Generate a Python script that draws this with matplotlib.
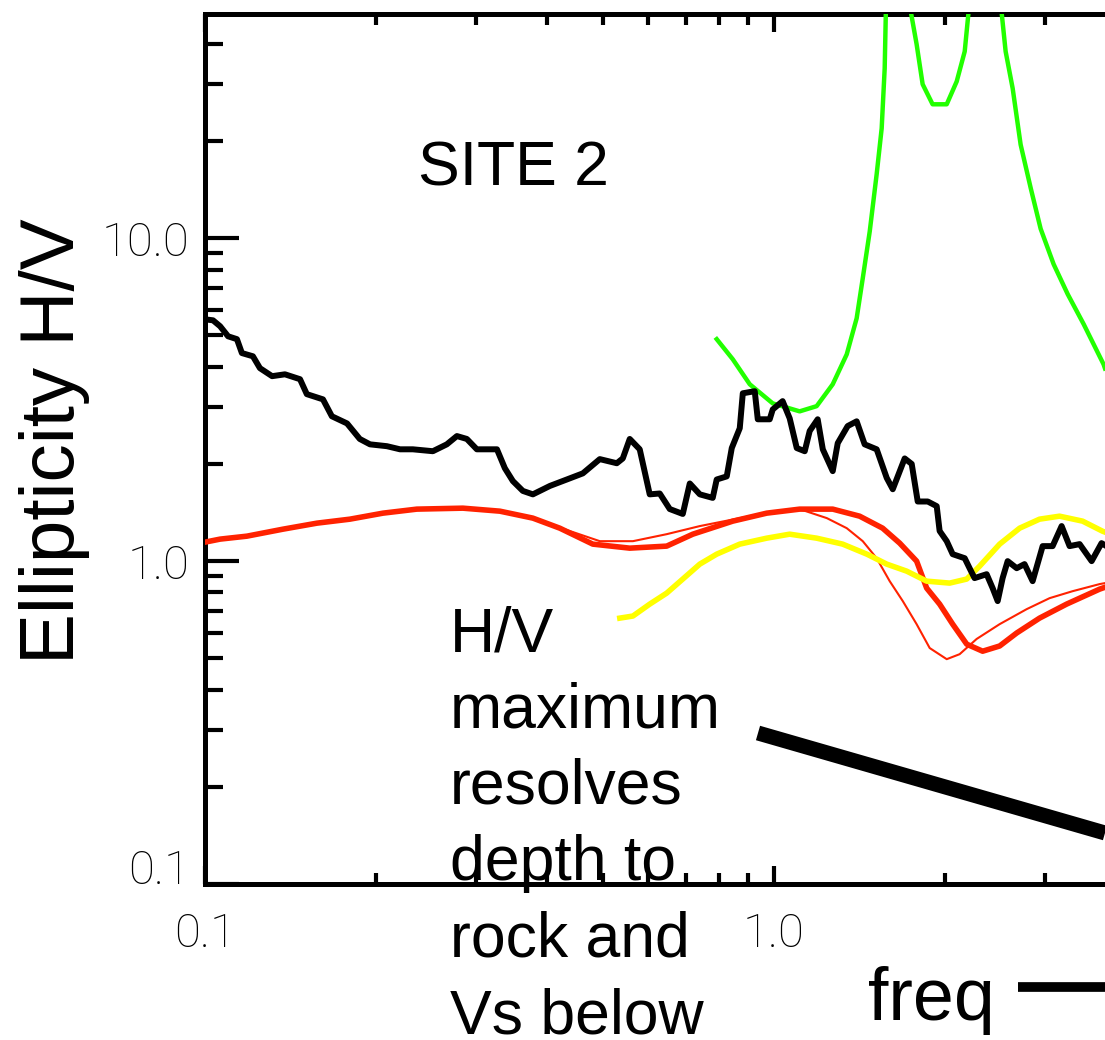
import matplotlib
matplotlib.use("Agg")
import matplotlib.pyplot as plt
from matplotlib.lines import Line2D
from matplotlib.ticker import FixedLocator, LogLocator, NullFormatter, FixedFormatter
from matplotlib.transforms import ScaledTranslation

# ---------------- data ----------------
black_f = [0.100, 0.1033, 0.1063, 0.1098, 0.1138, 0.1161, 0.1214, 0.1249, 0.1312, 0.1382,
           0.1469, 0.1510, 0.1612, 0.1671, 0.1777, 0.1871, 0.1950, 0.2088, 0.2202, 0.2319,
           0.2515, 0.2661, 0.2772, 0.2886, 0.3005, 0.3260, 0.3366, 0.3477, 0.3620, 0.3770,
           0.4040, 0.4325, 0.4615, 0.4943, 0.5295, 0.5425, 0.5580, 0.5810, 0.6050, 0.6300,
           0.6561, 0.6916, 0.7115, 0.7410, 0.7807, 0.7934, 0.8263, 0.8433, 0.8710, 0.8818,
           0.9255, 0.9369, 0.9833, 0.9954, 1.036, 1.066, 1.097, 1.133, 1.156, 1.194,
           1.219, 1.269, 1.295, 1.348, 1.398, 1.444, 1.516, 1.579, 1.618, 1.698,
           1.747, 1.790, 1.864, 1.933, 1.956, 2.013, 2.062, 2.165, 2.208, 2.253,
           2.366, 2.424, 2.474, 2.524, 2.576, 2.672, 2.758, 2.850, 2.968, 3.090,
           3.205, 3.310, 3.447, 3.619, 3.767, 3.82]
black_hv = [5.61, 5.57, 5.34, 4.97, 4.87, 4.41, 4.31, 3.96, 3.74, 3.79,
            3.66, 3.29, 3.17, 2.81, 2.67, 2.39, 2.30, 2.27, 2.22, 2.22,
            2.19, 2.30, 2.44, 2.39, 2.22, 2.22, 1.94, 1.77, 1.65, 1.61,
            1.71, 1.79, 1.87, 2.07, 2.01, 2.08, 2.39, 2.22, 1.61, 1.62,
            1.45, 1.40, 1.74, 1.61, 1.57, 1.79, 1.83, 2.24, 2.58, 3.31,
            3.36, 2.75, 2.75, 2.95, 3.13, 2.77, 2.24, 2.19, 2.53, 2.75,
            2.22, 1.90, 2.32, 2.62, 2.71, 2.30, 2.22, 1.81, 1.67, 2.08,
            2.00, 1.53, 1.53, 1.48, 1.24, 1.153, 1.051, 1.021, 0.951, 0.886,
            0.911, 0.825, 0.752, 0.886, 1.0, 0.951, 0.979, 0.867, 1.113, 1.113,
            1.284, 1.113, 1.129, 1.0, 1.137, 1.12]

red_f = [0.1, 0.1063, 0.1185, 0.1371, 0.1573, 0.1798, 0.2055, 0.2357, 0.2840, 0.3299,
         0.3770, 0.4204, 0.4805, 0.558, 0.648, 0.7203, 0.8467, 0.9714, 1.110, 1.269,
         1.415, 1.553, 1.664, 1.782, 1.856, 1.956, 2.062, 2.183, 2.328, 2.494,
         2.672, 2.931, 3.270, 3.738, 3.82]
red_hv = [1.145, 1.170, 1.195, 1.256, 1.311, 1.349, 1.408, 1.449, 1.459, 1.428,
          1.359, 1.265, 1.129, 1.097, 1.113, 1.212, 1.330, 1.408, 1.449, 1.449,
          1.378, 1.265, 1.137, 1.0, 0.825, 0.736, 0.638, 0.553, 0.526, 0.546,
          0.599, 0.666, 0.736, 0.819, 0.83]

redthin_f = [0.1, 0.1063, 0.1185, 0.1371, 0.1573, 0.1798, 0.2055, 0.2357, 0.2840, 0.3299,
             0.3770, 0.4204, 0.4943, 0.5652, 0.648, 0.741, 0.871, 0.9714, 1.110, 1.239,
             1.343, 1.433, 1.516, 1.598, 1.685, 1.782, 1.879, 2.013, 2.121, 2.272,
             2.494, 2.782, 3.053, 3.350, 3.738, 3.82]
redthin_hv = [1.145, 1.170, 1.195, 1.256, 1.311, 1.349, 1.408, 1.449, 1.459, 1.428,
              1.359, 1.27, 1.153, 1.153, 1.212, 1.284, 1.359, 1.408, 1.449, 1.359,
              1.265, 1.153, 1.021, 0.867, 0.752, 0.638, 0.538, 0.497, 0.515, 0.574,
              0.638, 0.710, 0.768, 0.807, 0.849, 0.855]

yellow_f = [0.536, 0.5652, 0.605, 0.648, 0.6916, 0.741, 0.7934, 0.871, 0.9714, 1.066,
            1.189, 1.321, 1.457, 1.579, 1.712, 1.856, 2.037, 2.183, 2.300, 2.494,
            2.704, 2.931, 3.178, 3.489, 3.782, 3.82]
yellow_hv = [0.666, 0.676, 0.736, 0.796, 0.880, 0.979, 1.051, 1.129, 1.178, 1.212,
             1.178, 1.129, 1.051, 0.979, 0.931, 0.867, 0.855, 0.880, 0.965, 1.129,
             1.265, 1.349, 1.378, 1.330, 1.238, 1.23]

green_f = [0.7934, 0.8467, 0.907, 0.9954, 1.110, 1.189, 1.269, 1.343, 1.398, 1.433,
           1.474, 1.516, 1.547, 1.566, 1.575, 1.65, 1.725, 1.782, 1.826, 1.901,
           2.013, 2.096, 2.165, 2.21, 2.35, 2.50, 2.555, 2.629, 2.715, 2.828,
           2.944, 3.103, 3.285, 3.504, 3.798, 3.82]
green_hv = [4.87, 4.22, 3.53, 3.08, 2.91, 3.02, 3.53, 4.37, 5.65, 7.52,
            10.5, 15.8, 21.9, 33.6, 55, 200, 55, 39.9, 30.0, 26.0,
            26.0, 30.6, 37.9, 55, 200, 55, 37.9, 29.1, 19.5, 14.3,
            10.7, 8.31, 6.71, 5.42, 4.07, 3.95]

x_ticks = [0.1, 1.0]
x_ticklabels = ["0.1", "1.0"]
y_ticks = [0.1, 1.0, 10.0]
y_ticklabels = ["0.1", "1.0", "10.0"]

y_label = "Ellipticity H/V"
site_text = "SITE 2"
note_lines = ["H/V", "maximum", "resolves", "depth to", "rock and", "Vs below"]
freq_text = "freq"

# ---------------- figure ----------------
W, H = 1105, 1040
fig = plt.figure(figsize=(W / 100, H / 100), dpi=100)
ax = fig.add_axes([205 / W, 1 - 884 / H, (W - 205) / W, (884 - 14) / H])
ax.set_xscale("log")
ax.set_yscale("log")
ax.set_xlim(0.1, 3.82)
ax.set_ylim(0.1, 49.5)

ax.plot(red_f, red_hv, color="#ff2200", lw=4.0, zorder=3)
ax.plot(redthin_f, redthin_hv, color="#ff2200", lw=1.5, zorder=3)
ax.plot(yellow_f, yellow_hv, color="#ffff00", lw=4.0, zorder=3)
ax.plot(green_f, green_hv, color="#22ff00", lw=3.2, zorder=3)
ax.plot(black_f, black_hv, color="black", lw=4.3, zorder=4)

for s in ["left", "top", "bottom"]:
    ax.spines[s].set_linewidth(3.6)
ax.spines["right"].set_visible(False)

ax.xaxis.set_major_locator(FixedLocator(x_ticks))
ax.xaxis.set_major_formatter(FixedFormatter(x_ticklabels))
ax.xaxis.set_minor_locator(LogLocator(base=10, subs=range(2, 10)))
ax.xaxis.set_minor_formatter(NullFormatter())
ax.yaxis.set_major_locator(FixedLocator(y_ticks))
ax.yaxis.set_major_formatter(FixedFormatter(y_ticklabels))
ax.yaxis.set_minor_locator(LogLocator(base=10, subs=range(2, 10)))
ax.yaxis.set_minor_formatter(NullFormatter())

ax.tick_params(axis="x", which="both", direction="in", top=True, bottom=True, width=3.0, pad=20)
ax.tick_params(axis="x", which="major", length=13)
ax.tick_params(axis="x", which="minor", length=8)
ax.tick_params(axis="y", which="both", direction="in", left=True, right=False, width=3.0, pad=11)
ax.tick_params(axis="y", which="major", length=24.5)
ax.tick_params(axis="y", which="minor", length=13)
for lab in ax.get_xticklabels() + ax.get_yticklabels():
    lab.set_fontfamily(["Roboto", "DejaVu Sans"])
    lab.set_fontweight("light")
    lab.set_fontsize(34)
# lowest y label sits a bit above its tick in the reference
ylabs = ax.get_yticklabels()
ylabs[0].set_transform(ylabs[0].get_transform() + ScaledTranslation(0, 17 / 100, fig.dpi_scale_trans))

txtfont = ["Liberation Sans", "DejaVu Sans"]
fig.text(55 / W, 1 - 441 / H, y_label, rotation=90, ha="center", va="center",
         fontsize=55, family=txtfont)
fig.text(418 / W, 1 - 185 / H, site_text, ha="left", va="baseline", fontsize=45, family=txtfont)

base0 = 651
step = 76.4
for i, line in enumerate(note_lines):
    fig.text(450 / W, 1 - (base0 + i * step) / H, line, ha="left", va="baseline",
             fontsize=45, family=txtfont, zorder=10)

fig.text(868 / W, 1 - 1020 / H, freq_text, ha="left", va="baseline", fontsize=53, family=txtfont)
fig.add_artist(Line2D([1018 / W, 1.0], [1 - 987 / H, 1 - 987 / H], color="black", lw=7,
                      solid_capstyle="butt", transform=fig.transFigure))
fig.add_artist(Line2D([758 / W, 1.0], [1 - 733 / H, 1 - 833 / H], color="black", lw=10.8,
                      solid_capstyle="butt", transform=fig.transFigure))

fig.savefig("out.png", dpi=100)
